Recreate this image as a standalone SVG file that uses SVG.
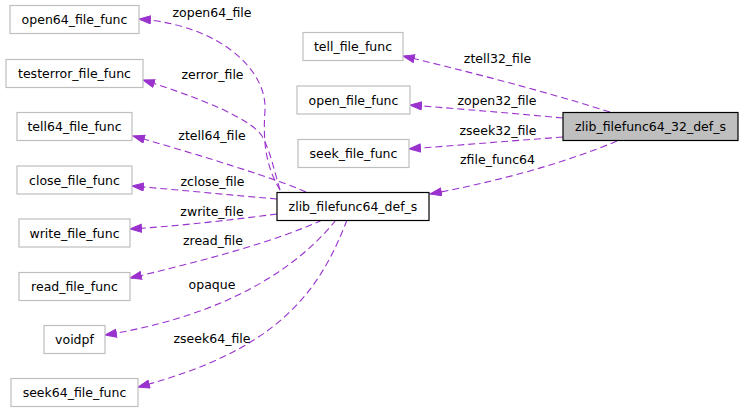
<svg xmlns="http://www.w3.org/2000/svg" width="744" height="413" viewBox="0 0 744 413">
<style>
text{font-family:"DejaVu Sans","Liberation Sans",sans-serif;font-size:12.5px;fill:#000;text-anchor:middle}
.n rect{fill:#fff;stroke:#bfbfbf;stroke-width:1.2}
.n.s rect{stroke:#000}
.n.m rect{fill:#bfbfbf;stroke:#000}
#edges path{fill:none;stroke:#9a32cd;stroke-width:1.1;stroke-dasharray:7,4;marker-end:url(#ah)}
</style>
<defs>
<marker id="ah" markerUnits="userSpaceOnUse" markerWidth="14" markerHeight="10" refX="12" refY="4.5" orient="auto">
<path d="M0.5,0.5 L12,4.5 L0.5,8.5 z" fill="#9a32cd" stroke="#9a32cd" stroke-width="1"/>
</marker>
</defs>
<rect width="744" height="413" fill="#fff"/>
<g id="edges">
<path d="M280,190 C265,165 263,140 265,110 C267,70 220,25 139,19"/>
<path d="M280,190 C274,170 270,150 262,136 C250,118 200,98 143,80"/>
<path d="M306,192 C280,180 200,155 133,136"/>
<path d="M277,199 C230,195 180,190 132,186"/>
<path d="M277,214 C230,220 180,226 130,229"/>
<path d="M322,220 C280,240 200,262 130,278"/>
<path d="M336,220 C300,265 230,315 105,335"/>
<path d="M347,220 C320,290 280,350 138,387"/>
<path d="M610,112 C540,90 470,72 403,56"/>
<path d="M563,118 C510,113 460,109 410,105"/>
<path d="M563,137 C510,141 460,145 409,149"/>
<path d="M617,141 C560,165 490,183 430,194"/>
</g>
<g id="edge-labels">
<text x="212" y="17">zopen64_file</text>
<text x="212.5" y="79">zerror_file</text>
<text x="212" y="140">ztell64_file</text>
<text x="212.5" y="185.5">zclose_file</text>
<text x="212" y="215.5">zwrite_file</text>
<text x="213" y="245">zread_file</text>
<text x="212" y="288.5">opaque</text>
<text x="212" y="342.5">zseek64_file</text>
<text x="497.5" y="62.5">ztell32_file</text>
<text x="497" y="105">zopen32_file</text>
<text x="498" y="134.5">zseek32_file</text>
<text x="497.5" y="164">zfile_func64</text>
</g>
<g id="n-open64" class="n"><rect x="10" y="5.5" width="129" height="28"/><text x="74.5" y="24">open64_file_func</text></g>
<g id="n-testerror" class="n"><rect x="6" y="59.5" width="137" height="28"/><text x="74.5" y="78">testerror_file_func</text></g>
<g id="n-tell64" class="n"><rect x="17" y="112.5" width="115" height="28"/><text x="74.5" y="131">tell64_file_func</text></g>
<g id="n-close" class="n"><rect x="17" y="166" width="115" height="28"/><text x="74.5" y="184.5">close_file_func</text></g>
<g id="n-write" class="n"><rect x="19" y="219" width="111" height="28"/><text x="74.5" y="237.5">write_file_func</text></g>
<g id="n-read" class="n"><rect x="19" y="272.5" width="111" height="28"/><text x="74.5" y="291">read_file_func</text></g>
<g id="n-voidpf" class="n"><rect x="44" y="325.5" width="61" height="28"/><text x="74.5" y="344">voidpf</text></g>
<g id="n-seek64" class="n"><rect x="11" y="378.5" width="127" height="28"/><text x="74.5" y="397">seek64_file_func</text></g>
<g id="n-tell" class="n"><rect x="303" y="32.5" width="100" height="28"/><text x="353" y="51">tell_file_func</text></g>
<g id="n-open" class="n"><rect x="297" y="86" width="113" height="28"/><text x="353.5" y="104.5">open_file_func</text></g>
<g id="n-seek" class="n"><rect x="298" y="139.5" width="111" height="28"/><text x="353.5" y="158">seek_file_func</text></g>
<g id="n-def64" class="n s"><rect x="277" y="192.5" width="152" height="28"/><text x="353" y="211">zlib_filefunc64_def_s</text></g>
<g id="n-def6432" class="n m"><rect x="563" y="112.5" width="175" height="28"/><text x="650.5" y="131">zlib_filefunc64_32_def_s</text></g>
</svg>
